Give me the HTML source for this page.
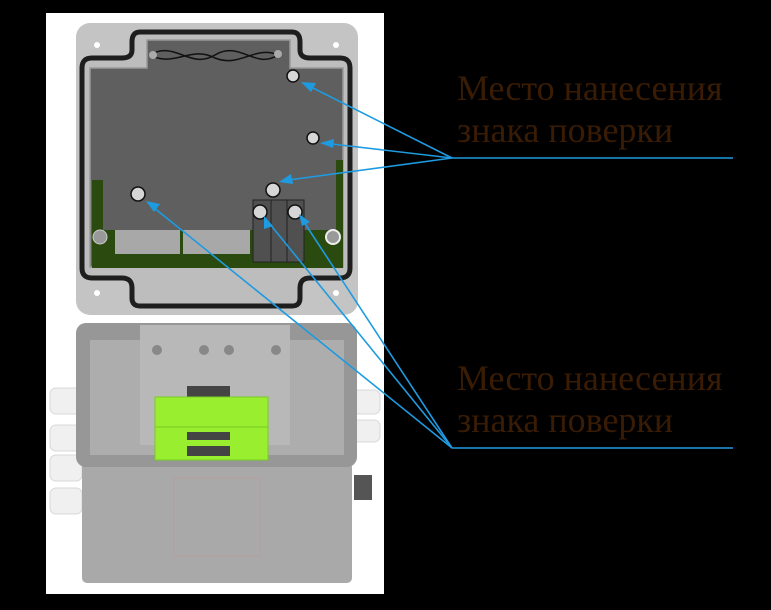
<!DOCTYPE html>
<html><head><meta charset="utf-8"><style>
html,body{margin:0;padding:0;background:#000;}
svg{display:block}
text{font-family:"Liberation Serif",serif;fill:#3a1c05;font-size:36px;}
</style></head><body>
<svg width="771" height="610" viewBox="0 0 771 610" xmlns="http://www.w3.org/2000/svg">
<rect x="0" y="0" width="771" height="610" fill="#000"/>
<rect x="46" y="13" width="338" height="581" fill="#fff"/>
<!-- lid -->
<rect x="76" y="23" width="282" height="292" rx="14" fill="#c4c4c4"/>
<path d="M140,32 H292 Q300,32 300,42 V50 Q300,58 310,58 H340 Q350,58 350,68 V268 Q350,278 340,278 H310 Q300,278 300,288 V298 Q300,306 292,306 H140 Q132,306 132,298 V288 Q132,278 122,278 H92 Q82,278 82,268 V68 Q82,58 92,58 H122 Q132,58 132,50 V42 Q132,32 140,32 Z" fill="#bdbdbd" stroke="#1e1e1e" stroke-width="5"/>
<path d="M147,40 H290 V68 H343 V267 H90 V68 H147 Z" fill="#5f5f5f" stroke="#9a9a9a" stroke-width="1.5"/>
<rect x="92" y="180" width="11" height="88" fill="#2a4a10"/>
<rect x="336" y="160" width="7" height="108" fill="#2a4a10"/>
<rect x="92" y="230" width="251" height="38" fill="#2a4a10"/>
<rect x="115" y="230" width="65" height="24" fill="#a8a8a8"/>
<rect x="183" y="230" width="67" height="24" fill="#a8a8a8"/>
<rect x="253" y="200" width="51" height="62" fill="#505050" stroke="#222" stroke-width="1"/>
<line x1="271" y1="200" x2="271" y2="262" stroke="#222"/><line x1="287" y1="200" x2="287" y2="262" stroke="#222"/>
<circle cx="100" cy="237" r="7" fill="#999" stroke="#ccc"/>
<circle cx="333" cy="237" r="7" fill="#999" stroke="#eee" stroke-width="2"/>
<circle cx="97" cy="45" r="3" fill="#fff"/><circle cx="336" cy="45" r="3" fill="#fff"/>
<circle cx="97" cy="293" r="3" fill="#fff"/><circle cx="336" cy="293" r="3" fill="#fff"/>
<path d="M150,55 C175,40 190,70 215,55 C240,40 255,70 278,55 C255,45 240,68 215,58 C190,45 175,68 150,55" fill="none" stroke="#111" stroke-width="1.5"/>
<circle cx="153" cy="55" r="4" fill="#aaa"/><circle cx="278" cy="54" r="4" fill="#aaa"/>
<g fill="#d6d6d6" stroke="#111" stroke-width="1.5">
<circle cx="293" cy="76" r="6"/><circle cx="313" cy="138" r="6"/><circle cx="273" cy="190" r="7"/>
<circle cx="138" cy="194" r="7"/><circle cx="260" cy="212" r="7"/><circle cx="295" cy="212" r="7"/></g>
<!-- lower box -->
<g fill="#f0f0f0" stroke="#d8d8d8"><rect x="50" y="388" width="32" height="26" rx="6"/><rect x="50" y="425" width="32" height="26" rx="6"/><rect x="50" y="455" width="32" height="26" rx="6"/><rect x="50" y="488" width="32" height="26" rx="6"/>
<rect x="352" y="390" width="28" height="24" rx="6"/><rect x="352" y="420" width="28" height="22" rx="6"/></g>
<rect x="82" y="462" width="270" height="121" rx="5" fill="#a9a9a9"/>
<rect x="354" y="475" width="18" height="25" fill="#555"/>
<rect x="76" y="323" width="281" height="144" rx="10" fill="#979797"/>
<rect x="90" y="340" width="254" height="115" fill="#adadad"/>
<rect x="140" y="325" width="150" height="120" fill="#b8b8b8"/>
<g fill="#888"><circle cx="157" cy="350" r="5"/><circle cx="204" cy="350" r="5"/><circle cx="229" cy="350" r="5"/><circle cx="276" cy="350" r="5"/></g>
<rect x="187" y="386" width="43" height="12" fill="#444"/>
<rect x="155" y="397" width="113" height="30" fill="#9aee30" stroke="#7c2"/>
<rect x="155" y="427" width="113" height="33" fill="#9aee30" stroke="#7c2"/>
<rect x="187" y="432" width="43" height="8" fill="#444"/><rect x="187" y="446" width="43" height="10" fill="#444"/>
<rect x="174" y="478" width="86" height="78" fill="none" stroke="#b99" stroke-width="0.6"/>
<!-- leaders -->
<g stroke="#1e9be0" stroke-width="1.6" fill="none">
<line x1="452" y1="158" x2="733" y2="158"/>
<line x1="452" y1="158" x2="303" y2="83"/><line x1="452" y1="158" x2="323" y2="143"/><line x1="452" y1="158" x2="281" y2="181"/>
<line x1="452" y1="448" x2="733" y2="448"/>
<line x1="452" y1="448" x2="148" y2="203"/><line x1="452" y1="448" x2="265" y2="218"/><line x1="452" y1="448" x2="300" y2="216"/>
</g>
<g fill="#1e9be0">
<polygon points="301,82 316,83 311,92"/><polygon points="320,143 334,139 333,148"/><polygon points="279,182 291,174 293,184"/>
<polygon points="146,201 160,204 154,212"/><polygon points="264,216 273,226 264,229"/><polygon points="299,214 310,222 302,226"/>
</g>
<text x="457" y="100">Место нанесения</text>
<text x="457" y="142">знака поверки</text>
<text x="457" y="390">Место нанесения</text>
<text x="457" y="432">знака поверки</text>
</svg>
</body></html>
